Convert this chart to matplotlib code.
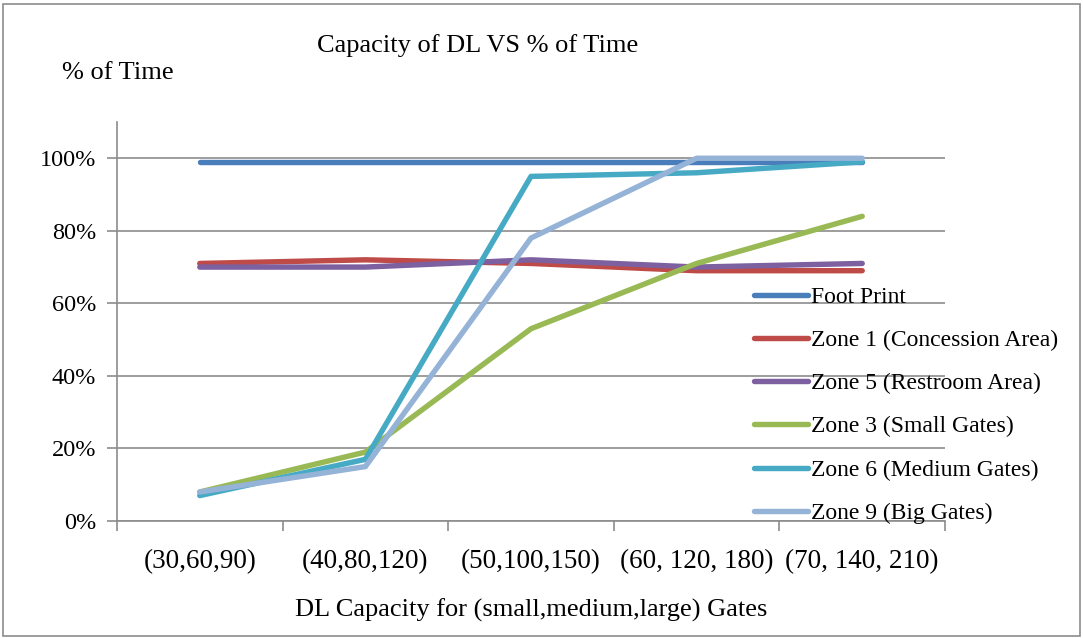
import numpy as np
import matplotlib.pyplot as plt
from matplotlib.patches import Rectangle

plt.rcParams['font.family'] = ['Liberation Serif', 'DejaVu Serif']

categories = ['(30,60,90)', '(40,80,120)', '(50,100,150)', '(60, 120, 180)', '(70, 140, 210)']
foot_print = [99, 99, 99, 99, 99]
zone1 = [71, 72, 71, 69, 69]
zone5 = [70, 70, 72, 70, 71]
zone3 = [8, 19, 53, 71, 84]
zone6 = [7, 17, 95, 96, 99]
zone9 = [8, 15, 78, 100, 100]

series = [
    ('Foot Print', foot_print, '#4A7EBB'),
    ('Zone 1 (Concession Area)', zone1, '#BE4B48'),
    ('Zone 5 (Restroom Area)', zone5, '#7D60A0'),
    ('Zone 3 (Small Gates)', zone3, '#98B954'),
    ('Zone 6 (Medium Gates)', zone6, '#46AAC5'),
    ('Zone 9 (Big Gates)', zone9, '#95B3D7'),
]

fig = plt.figure(figsize=(10.83, 6.38), dpi=100)
ax = fig.add_axes([0.108, 0.1834, 0.7646, 0.6254])

x = np.arange(len(categories))
for name, vals, col in series:
    ax.plot(x, vals, color=col, lw=3.9, solid_capstyle='round', label=name)

grid_c = '#8C8C8C'
ax.set_xlim(-0.5, len(categories) - 0.5)
ax.set_ylim(0, 110)
ax.set_yticks(np.arange(0, 101, 20))
ax.set_yticklabels([f'{v}%' for v in range(0, 101, 20)])
ax.yaxis.grid(True, color=grid_c, lw=1.2)
ax.set_axisbelow(True)

# ticks on category boundaries, labels at centers
ax.set_xticks(np.arange(-0.5, len(categories), 1.0))
ax.set_xticklabels([])
ax.set_xticks(x, minor=True)
ax.set_xticklabels(categories, minor=True)
ax.tick_params(axis='x', which='minor', length=0, pad=20, labelsize=19.5)
ax.tick_params(axis='x', which='major', length=7, color=grid_c, width=1.2)
ax.tick_params(axis='y', length=7, color=grid_c, width=1.2, labelsize=17.5, pad=8)

for s in ['top', 'right']:
    ax.spines[s].set_visible(False)
for s in ['left', 'bottom']:
    ax.spines[s].set_color(grid_c)
    ax.spines[s].set_linewidth(1.2)

ax.set_xlabel('DL Capacity for (small,medium,large) Gates', fontsize=19, labelpad=18)
fig.text(0.441, 0.928, 'Capacity of DL VS % of Time', fontsize=19, ha='center', va='center')
fig.text(0.057, 0.885, '% of Time', fontsize=19, ha='left', va='center')

ax.legend(loc='upper left', bbox_to_anchor=(0.758, 0.612), frameon=False, fontsize=17,
          handlelength=2.27, handletextpad=0.16, labelspacing=0.92, borderaxespad=0)

fig.patches.append(Rectangle((0.003, 0.003), 0.994, 0.99, transform=fig.transFigure,
                             fill=False, edgecolor='#8C8C8C', lw=1.2))

fig.savefig('out.png', dpi=100)
